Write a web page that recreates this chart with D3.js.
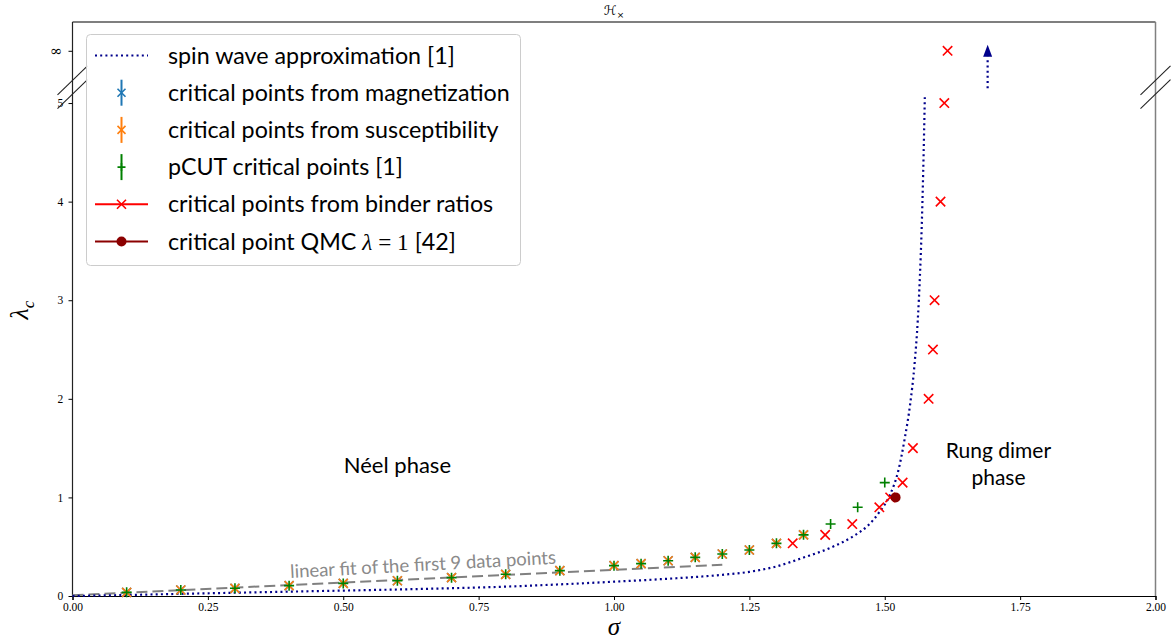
<!DOCTYPE html>
<html>
<head>
<meta charset="utf-8">
<script src="https://cdn.jsdelivr.net/npm/d3@7"></script>
<style>
  html, body { margin: 0; padding: 0; background: #fff; }
  svg { display: block; }
</style>
</head>
<body>
<svg id="chart" width="1173" height="639"></svg>
<script>
// ---- data ----
const xTicks = [0, 0.25, 0.5, 0.75, 1.0, 1.25, 1.5, 1.75, 2.0];
const yTicks = [0, 1, 2, 3, 4, 5];
const INF_POS = 5.53;           // where "infinity" sits on the broken axis
const yTickLabels = ["0", "1", "2", "3", "4", "5"];

// spin wave approximation (diverges near sigma ~ 1.57)
const swSigma  = [0, 0.1, 0.2, 0.3, 0.4, 0.5, 0.6, 0.7, 0.8, 0.9, 1.0, 1.1, 1.2, 1.25, 1.3, 1.35, 1.4, 1.44, 1.47, 1.49, 1.51, 1.525, 1.537, 1.547, 1.555, 1.561, 1.565, 1.568, 1.571, 1.574];
const swLambda = [0, 0.01, 0.022, 0.033, 0.044, 0.055, 0.066, 0.079, 0.095, 0.118, 0.145, 0.175, 0.215, 0.245, 0.30, 0.39, 0.49, 0.60, 0.72, 0.85, 1.03, 1.27, 1.6, 1.95, 2.35, 2.8, 3.25, 3.7, 4.3, 5.06];

// critical points from magnetization / susceptibility
const qmcSigma  = [0.1, 0.2, 0.3, 0.4, 0.5, 0.6, 0.7, 0.8, 0.9, 1.0, 1.05, 1.1, 1.15, 1.2, 1.25, 1.3, 1.35];
const magLambda = [0.037, 0.061, 0.078, 0.105, 0.128, 0.155, 0.186, 0.22, 0.257, 0.308, 0.328, 0.358, 0.392, 0.426, 0.466, 0.534, 0.62];
const susLambda = [0.037, 0.061, 0.078, 0.105, 0.128, 0.155, 0.186, 0.22, 0.257, 0.308, 0.328, 0.358, 0.392, 0.426, 0.466, 0.534, 0.62];

// pCUT critical points
const pcutSigma  = [0.1, 0.2, 0.3, 0.4, 0.5, 0.6, 0.7, 0.8, 0.9, 1.0, 1.05, 1.1, 1.15, 1.2, 1.25, 1.3, 1.35, 1.4, 1.45, 1.5];
const pcutLambda = [0.037, 0.061, 0.078, 0.105, 0.128, 0.155, 0.186, 0.22, 0.257, 0.308, 0.328, 0.358, 0.392, 0.426, 0.466, 0.534, 0.62, 0.73, 0.90, 1.15];

// critical points from binder ratios (last one at lambda = infinity)
const binderSigma  = [1.33, 1.39, 1.44, 1.49, 1.51, 1.533, 1.552, 1.581, 1.589, 1.592, 1.603, 1.61, 1.616];
const binderLambda = [0.534, 0.62, 0.73, 0.90, 1.0, 1.15, 1.5, 2.0, 2.5, 3.0, 4.0, 5.0, INF_POS];

// QMC critical point at lambda = 1
const qmcPointSigma = [1.52];
const qmcPointLambda = [1.0];

// linear fit of the first 9 points
const fitSigma  = [0.0, 1.2];
const fitLambda = [0.008, 0.318];

// spin-wave asymptote arrow towards infinity
const arrowSigma = 1.69;
const arrowLambda = [5.15, 5.47, 5.59];

// ---- layout ----
const svg = d3.select("#chart");
const L = 72.5, R = 1155.5, T = 22, B = 596;
const x = d3.scaleLinear().domain([0, 2]).range([L, R]);
const y = d3.scaleLinear().domain([0, 5.822]).range([B, T]);

const serif = "'Liberation Serif', 'DejaVu Serif', serif";
const sans = "Lato, 'Open Sans', 'DejaVu Sans', sans-serif";

const NAVY = "#00008b", BLUE = "#1f77b4", ORANGE = "#ff7f0e", GREEN = "#008000", RED = "#ff0000", DARKRED = "#8b0000";

// spines
svg.append("line").attr("x1", L).attr("x2", R).attr("y1", T).attr("y2", T).attr("stroke", "#000").attr("stroke-width", 1.2);
svg.append("line").attr("x1", R).attr("x2", R).attr("y1", T).attr("y2", B).attr("stroke", "#808080").attr("stroke-width", 1.5);
svg.append("line").attr("x1", L).attr("x2", L).attr("y1", T).attr("y2", B).attr("stroke", "#222").attr("stroke-width", 1.2);

// x axis
const xAxis = d3.axisBottom(x).tickValues(xTicks).tickFormat(d3.format(".2f")).tickSizeOuter(0).tickSize(4);
const gx = svg.append("g").attr("transform", `translate(0,${B})`).call(xAxis);
gx.select(".domain").attr("stroke", "#000").attr("stroke-width", 1.2);
gx.selectAll(".tick line").attr("stroke", "#000");
gx.selectAll(".tick text").attr("font-family", serif).attr("font-size", 11.5).attr("fill", "#000");

// y axis
const yAxis = d3.axisLeft(y).tickValues(yTicks.concat([INF_POS]))
  .tickFormat(d => d === INF_POS ? "\u221e" : yTickLabels[yTicks.indexOf(d)])
  .tickSizeOuter(0).tickSize(4);
const gy = svg.append("g").attr("transform", `translate(${L},0)`).call(yAxis);
gy.select(".domain").remove();
gy.selectAll(".tick line").attr("stroke", "#000");
gy.selectAll(".tick text").attr("font-family", serif).attr("font-size", 11.5).attr("fill", "#000").attr("dx", "-0.2em");
gy.selectAll(".tick text").filter(d => d === INF_POS).attr("font-family", "'DejaVu Serif', serif").attr("font-size", 15);

// axis labels and title
svg.append("text").attr("x", (L + R) / 2).attr("y", 635).attr("text-anchor", "middle")
  .attr("font-family", serif).attr("font-style", "italic").attr("font-size", 25).text("σ");
const yl = svg.append("text").attr("transform", `translate(28,${y(2.9)}) rotate(-90)`).attr("text-anchor", "middle")
  .attr("font-family", serif).attr("font-style", "italic").attr("font-size", 26);
yl.append("tspan").text("λ");
yl.append("tspan").attr("font-size", 17).attr("dy", 6).text("c");
const tt = svg.append("text").attr("x", (L + R) / 2).attr("y", 15).attr("text-anchor", "middle")
  .attr("font-family", "'DejaVu Sans', sans-serif").attr("font-size", 13);
tt.append("tspan").text("ℋ");
tt.append("tspan").attr("font-size", 9).attr("dy", 3).text("×");

// plot layer
const plot = svg.append("g");
const line = d3.line().x(d => x(d[0])).y(d => y(d[1]));

// linear fit
plot.append("path").datum(d3.zip(fitSigma, fitLambda)).attr("d", line)
  .attr("fill", "none").attr("stroke", "#808080").attr("stroke-width", 2).attr("stroke-dasharray", "11,5");
const fa = Math.atan2(y(fitLambda[1]) - y(fitLambda[0]), x(fitSigma[1]) - x(fitSigma[0])) * 180 / Math.PI;
svg.append("text").attr("transform", `translate(${x(0.648)},${y(0.255)}) rotate(${fa - 0.4})`)
  .attr("text-anchor", "middle").attr("font-family", sans).attr("font-size", 18.5).attr("fill", "#8a8a8a")
  .text("linear fit of the first 9 data points");

// spin wave curve
plot.append("path").datum(d3.zip(swSigma, swLambda)).attr("d", d3.line().curve(d3.curveMonotoneX).x(d => x(d[0])).y(d => y(d[1])))
  .attr("fill", "none").attr("stroke", NAVY).attr("stroke-width", 2.2).attr("stroke-dasharray", "2,3.2");

// arrow to infinity
plot.append("line").attr("x1", x(arrowSigma)).attr("x2", x(arrowSigma)).attr("y1", y(arrowLambda[0])).attr("y2", y(arrowLambda[1]))
  .attr("stroke", NAVY).attr("stroke-width", 2.2).attr("stroke-dasharray", "2,3.2");
plot.append("path").attr("d", `M${x(arrowSigma) - 4.5},${y(arrowLambda[1])} L${x(arrowSigma) + 4.5},${y(arrowLambda[1])} L${x(arrowSigma)},${y(arrowLambda[2])} Z`)
  .attr("fill", NAVY);

// marker helpers
function xMark(g, cx, cy, s, color, w) {
  g.append("path").attr("d", `M${cx - s},${cy - s}L${cx + s},${cy + s}M${cx - s},${cy + s}L${cx + s},${cy - s}`)
    .attr("stroke", color).attr("stroke-width", w).attr("fill", "none");
}
function plusMark(g, cx, cy, s, color, w) {
  g.append("path").attr("d", `M${cx - s},${cy}L${cx + s},${cy}M${cx},${cy - s}L${cx},${cy + s}`)
    .attr("stroke", color).attr("stroke-width", w).attr("fill", "none");
}

d3.zip(qmcSigma, magLambda).forEach(d => xMark(plot, x(d[0]), y(d[1]), 4.5, BLUE, 1.6));
d3.zip(qmcSigma, susLambda).forEach(d => xMark(plot, x(d[0]), y(d[1]), 4.5, ORANGE, 1.6));
d3.zip(pcutSigma, pcutLambda).forEach(d => plusMark(plot, x(d[0]), y(d[1]), 5, GREEN, 1.6));
d3.zip(binderSigma, binderLambda).forEach(d => xMark(plot, x(d[0]), y(d[1]), 4.7, RED, 1.6));
d3.zip(qmcPointSigma, qmcPointLambda).forEach(d =>
  plot.append("circle").attr("cx", x(d[0])).attr("cy", y(d[1])).attr("r", 5).attr("fill", DARKRED));

// phase labels
svg.append("text").attr("x", x(0.6)).attr("y", y(1.25)).attr("text-anchor", "middle")
  .attr("font-family", sans).attr("font-size", 22).text("Néel phase");
const rdFont = 21;
svg.append("text").attr("x", x(1.71)).attr("y", y(1.40)).attr("text-anchor", "middle")
  .attr("font-family", sans).attr("font-size", rdFont).text("Rung dimer");
svg.append("text").attr("x", x(1.71)).attr("y", y(1.13)).attr("text-anchor", "middle")
  .attr("font-family", sans).attr("font-size", rdFont).text("phase");

// axis break marks
[5.09, 5.23].forEach(b => {
  [L, R].forEach(px => {
    svg.append("line").attr("x1", px - 15).attr("y1", y(b) + 14.5).attr("x2", px + 15).attr("y2", y(b) - 14.5)
      .attr("stroke", "#222").attr("stroke-width", 1.1);
  });
});

// legend
const leg = svg.append("g");
leg.append("rect").attr("x", 86.5).attr("y", 34.5).attr("width", 434).attr("height", 231).attr("rx", 4)
  .attr("fill", "#fff").attr("fill-opacity", 0.85).attr("stroke", "#cccccc").attr("stroke-width", 1);
const legItems = [
  "spin wave approximation [1]",
  "critical points from magnetization",
  "critical points from susceptibility",
  "pCUT critical points [1]",
  "critical points from binder ratios",
  "critical point QMC "
];
const ly0 = 55.5, ldy = 37.2, hx0 = 95, hx1 = 148, hc = 121.5, tx = 168;
const legTexts = [];
legItems.forEach((t, i) => {
  const cy = ly0 + i * ldy;
  const g = leg.append("g");
  if (i === 0) {
    g.append("line").attr("x1", hx0).attr("x2", hx1).attr("y1", cy).attr("y2", cy)
      .attr("stroke", NAVY).attr("stroke-width", 2.2).attr("stroke-dasharray", "2,3.2");
  } else if (i === 1 || i === 2) {
    const c = i === 1 ? BLUE : ORANGE;
    g.append("line").attr("x1", hc).attr("x2", hc).attr("y1", cy - 13).attr("y2", cy + 13).attr("stroke", c).attr("stroke-width", 2);
    xMark(g, hc, cy, 4, c, 1.6);
  } else if (i === 3) {
    g.append("line").attr("x1", hc).attr("x2", hc).attr("y1", cy - 13).attr("y2", cy + 13).attr("stroke", GREEN).attr("stroke-width", 2);
    plusMark(g, hc, cy, 4, GREEN, 1.6);
  } else if (i === 4) {
    g.append("line").attr("x1", hx0).attr("x2", hx1).attr("y1", cy).attr("y2", cy).attr("stroke", RED).attr("stroke-width", 2);
    xMark(g, hc, cy, 4.5, RED, 1.6);
  } else {
    g.append("line").attr("x1", hx0).attr("x2", hx1).attr("y1", cy).attr("y2", cy).attr("stroke", DARKRED).attr("stroke-width", 2);
    g.append("circle").attr("cx", hc).attr("cy", cy).attr("r", 5).attr("fill", DARKRED);
  }
  const txt = g.append("text").attr("x", tx).attr("y", cy + 8).attr("font-family", sans).attr("font-size", 22).attr("fill", "#000").text(t);
  if (i === 5) {
    txt.append("tspan").attr("font-family", serif).attr("font-style", "italic").text("λ");
    txt.append("tspan").attr("font-family", serif).text(" = 1");
    txt.append("tspan").text(" [42]");
  }
  legTexts.push(txt);
});
// size the legend font so the longest entry spans the box
const longest = legTexts[1].node().getComputedTextLength();
const fs = 22 * 342 / longest;
legTexts.forEach(t => t.attr("font-size", fs));
</script>
</body>
</html>
